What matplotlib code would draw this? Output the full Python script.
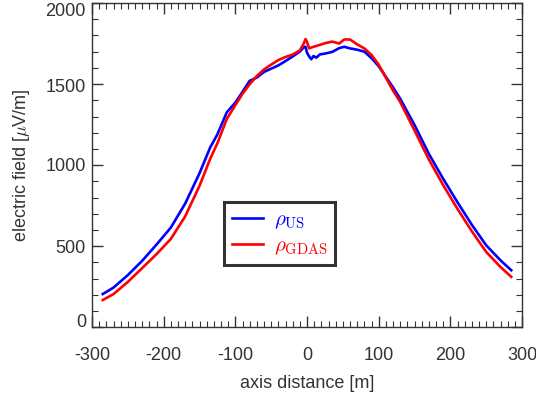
import matplotlib
matplotlib.use("Agg")
import matplotlib.pyplot as plt
from matplotlib.ticker import MultipleLocator, NullFormatter
from matplotlib.transforms import offset_copy

plt.rcParams['font.family'] = ['Liberation Sans', 'DejaVu Sans']
plt.rcParams['mathtext.fontset'] = 'cm'
plt.rcParams['axes.unicode_minus'] = False

x_m = [-285, -270, -250, -230, -210, -190, -170, -150, -135, -125, -112, -100, -90, -80,
       -70, -60, -50, -40, -30, -20, -10, -5, -2, 0, 3, 6, 9, 13, 18, 25, 35, 45, 52,
       60, 70, 80, 90, 100, 110, 120, 130, 150, 170, 190, 210, 230, 250, 270, 285]

e_us = [205, 245, 322, 410, 510, 615, 763, 950, 1110, 1190, 1325, 1386, 1452, 1520,
        1540, 1575, 1595, 1615, 1642, 1670, 1700, 1724, 1730, 1694, 1670, 1653, 1673, 1663, 1683, 1688, 1698, 1722, 1730,
        1720, 1712, 1700, 1660, 1610, 1545, 1480, 1410, 1248, 1070, 916, 771, 632, 506, 413, 352]

e_gdas = [168, 205, 280, 365, 451, 545, 684, 872, 1040, 1135, 1284, 1370, 1440, 1499,
          1550, 1590, 1620, 1648, 1667, 1682, 1708, 1745, 1778, 1760, 1720, 1725, 1730, 1735, 1742, 1752, 1762, 1750, 1775,
          1775, 1745, 1720, 1680, 1620, 1540, 1460, 1390, 1214, 1035, 877, 730, 592, 465, 372, 311]

y_ticks = [0, 500, 1000, 1500, 2000]
y_ticklabels = ['0', '500', '1000', '1500', '2000']
y_label_shift = [5, -2, -1, -3, -9]  # pixel offsets of the labels (IDL-like placement)

labels = [r'$\rho_{\rm US}$', r'$\rho_{\rm GDAS}$']
colors = ['#0000ff', '#ff0000']

W, H = 536, 399
fig = plt.figure(figsize=(W / 100, H / 100), dpi=100)
ax = fig.add_axes([92 / W, 1 - 327.3 / H, (522 - 92) / W, (327.3 - 3) / H])

l1, = ax.plot(x_m, e_us, color=colors[0], lw=1.9, label=labels[0])
l2, = ax.plot(x_m, e_gdas, color=colors[1], lw=1.9, label=labels[1])

ax.set_xlim(-300, 300)
ax.set_ylim(0, 2000)
ax.xaxis.set_major_locator(MultipleLocator(100))
ax.xaxis.set_minor_locator(MultipleLocator(10))
ax.set_yticks(y_ticks)
ax.yaxis.set_minor_locator(MultipleLocator(100))
ax.yaxis.set_major_formatter(NullFormatter())

tc = '#333333'
for s in ax.spines.values():
    s.set_color(tc)
    s.set_linewidth(1.0)
ax.tick_params(which='both', direction='in', top=True, right=True, color=tc,
               labelcolor=tc, labelsize=13)
ax.tick_params(which='major', length=8, width=1.0)
ax.tick_params(axis='x', which='major', pad=14)
ax.tick_params(which='minor', length=4, width=0.8)

ytrans = ax.get_yaxis_transform()
for v, lab, dy in zip(y_ticks, y_ticklabels, y_label_shift):
    tr = offset_copy(ytrans, fig=fig, x=-6, y=dy, units='dots')
    ax.text(0, v, lab, transform=tr, ha='right', va='center', fontsize=13, color=tc)

ax.set_xlabel('axis distance [m]', fontsize=13, color=tc, labelpad=8)
ax.set_ylabel(r'electric field [$\mu$V/m]', fontsize=13, color=tc, labelpad=40)

leg = ax.legend(handles=[l1, l2], loc='upper left',
                bbox_to_anchor=(224 / W, 1 - 202 / H), bbox_transform=fig.transFigure,
                fancybox=False, frameon=True, fontsize=15, handlelength=1.5,
                handletextpad=0.5, borderpad=0.38, labelspacing=0.25, borderaxespad=0)
leg.get_frame().set_edgecolor('black')
leg.get_frame().set_linewidth(2.2)
for t, c in zip(leg.get_texts(), colors):
    t.set_color(c)

fig.savefig('out.png', dpi=100)
